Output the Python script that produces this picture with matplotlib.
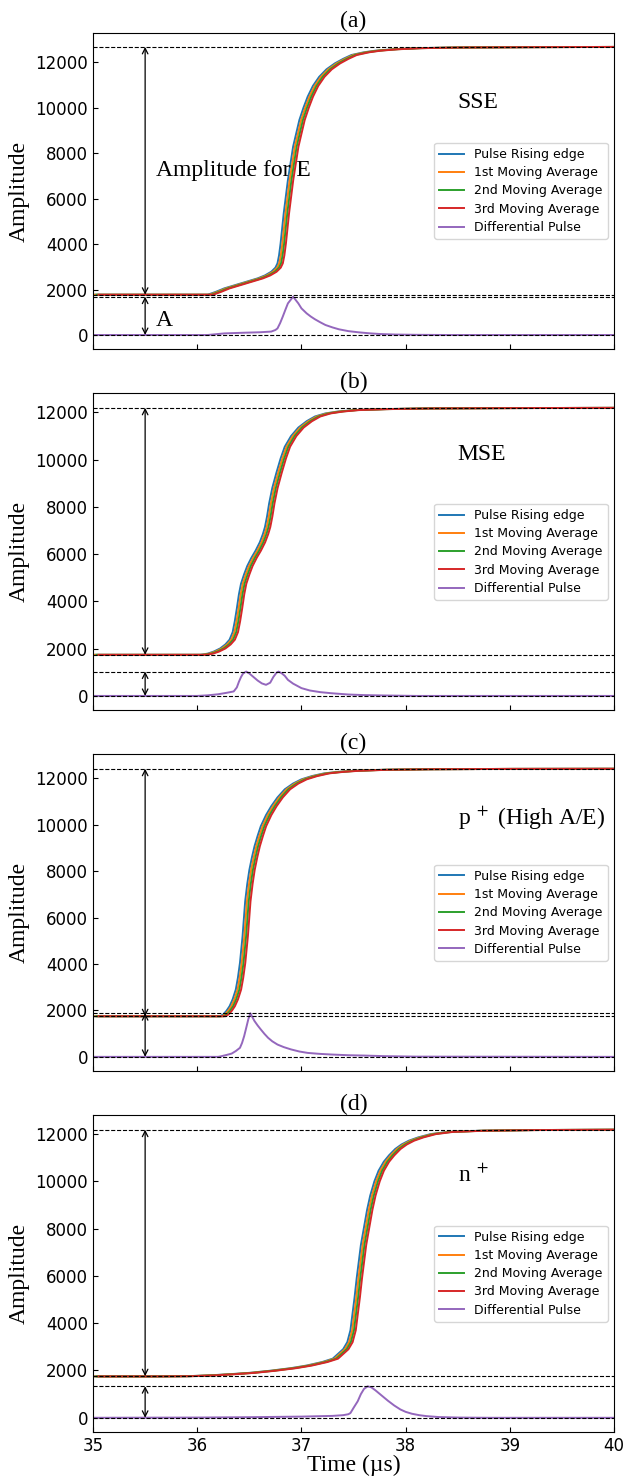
import numpy as np
import matplotlib
matplotlib.use('Agg')
import matplotlib.pyplot as plt

plt.rcParams['mathtext.fontset'] = 'stix'

# panel titles / event type
panel_titles = ['(a)', '(b)', '(c)', '(d)']
event_labels = ['SSE', 'MSE', r'p$^{\ +}$ (High A/E)', r'n$^{\ +}$']
legend_labels = ['Pulse Rising edge', '1st Moving Average', '2nd Moving Average',
                 '3rd Moving Average', 'Differential Pulse']

# delay of each moving average curve relative to the pulse (us)
ma_lag = [0.0, 0.017, 0.034, 0.051]

# (a) SSE
t_a = [35.0, 36.10, 36.18, 36.26, 36.34, 36.42, 36.50, 36.58, 36.65, 36.71, 36.75, 36.77,
       36.785, 36.80, 36.83, 36.87, 36.92, 36.98, 37.02, 37.06, 37.11, 37.17, 37.24, 37.32,
       37.40, 37.48, 37.60, 37.71, 37.87, 38.1, 38.5, 39.2, 40.0]
v_a = [1770, 1770, 1900, 2050, 2160, 2270, 2380, 2490, 2620, 2780, 2960, 3150,
       3500, 4030, 5350, 6810, 8280, 9450, 10000, 10480, 10950, 11350, 11680, 11940,
       12140, 12310, 12430, 12500, 12560, 12610, 12640, 12655, 12665]
td_a = [35.0, 36.10, 36.26, 36.45, 36.6, 36.71, 36.75, 36.77, 36.795, 36.82, 36.845, 36.87,
        36.92, 36.97, 37.0, 37.05, 37.09, 37.13, 37.18, 37.23, 37.3, 37.36, 37.45, 37.55,
        37.65, 37.75, 37.9, 38.1, 38.4, 40.0]
vd_a = [0, 0, 70, 100, 120, 150, 220, 290, 520, 800, 1100, 1390,
        1685, 1390, 1170, 950, 810, 690, 560, 440, 330, 250, 170, 117,
        75, 44, 20, 8, 0, 0]

# (b) MSE
t_b = [35.0, 36.03, 36.10, 36.16, 36.22, 36.27, 36.31, 36.34, 36.36, 36.38, 36.40, 36.42,
       36.45, 36.48, 36.52, 36.56, 36.60, 36.63, 36.65, 36.67, 36.69, 36.72, 36.76, 36.80,
       36.84, 36.90, 36.97, 37.05, 37.13, 37.23, 37.35, 37.5, 37.77, 38.2, 39.0, 40.0]
v_b = [1740, 1740, 1790, 1880, 2010, 2180, 2380, 2700, 3150, 3700, 4300, 4750,
       5150, 5500, 5850, 6150, 6500, 6850, 7150, 7600, 8150, 8800, 9450, 10050,
       10550, 11000, 11360, 11630, 11830, 11960, 12040, 12100, 12140, 12170, 12185, 12195]
td_b = [35.0, 36.0, 36.1, 36.2, 36.28, 36.35, 36.38, 36.40, 36.42, 36.44, 36.47, 36.50,
        36.54, 36.58, 36.62, 36.66, 36.70, 36.73, 36.76, 36.78, 36.81, 36.84, 36.87, 36.92,
        37.0, 37.08, 37.18, 37.29, 37.45, 37.6, 37.8, 38.1, 40.0]
vd_b = [0, 0, 25, 70, 130, 190, 360, 600, 800, 950, 1030, 950,
        800, 650, 530, 470, 560, 800, 980, 1030, 960, 850, 680, 520,
        330, 230, 160, 113, 60, 35, 18, 0, 0]

# (c) p+ surface
t_c = [35.0, 36.22, 36.25, 36.28, 36.31, 36.34, 36.37, 36.39, 36.41, 36.435, 36.46, 36.48,
       36.50, 36.525, 36.55, 36.58, 36.61, 36.66, 36.71, 36.77, 36.84, 36.92, 37.0, 37.1,
       37.22, 37.36, 37.51, 37.77, 38.2, 39.0, 40.0]
v_c = [1750, 1750, 1830, 1980, 2180, 2480, 2900, 3400, 4050, 5200, 6700, 7450,
       8050, 8600, 9080, 9530, 9940, 10420, 10800, 11180, 11530, 11780, 11960, 12100,
       12220, 12285, 12330, 12370, 12395, 12410, 12415]
td_c = [35.0, 36.2, 36.23, 36.28, 36.33, 36.37, 36.41, 36.43, 36.45, 36.47, 36.49, 36.51,
        36.53, 36.55, 36.58, 36.61, 36.645, 36.68, 36.72, 36.77, 36.83, 36.90, 36.98, 37.06,
        37.17, 37.29, 37.45, 37.61, 37.8, 38.1, 40.0]
vd_c = [0, 0, 26, 80, 140, 250, 390, 600, 890, 1250, 1620, 1880,
        1700, 1540, 1350, 1180, 990, 820, 670, 530, 420, 320, 230, 170,
        130, 100, 70, 55, 30, 10, 0]

# (d) n+ surface
t_d = [35.0, 35.6, 35.9, 36.1, 36.3, 36.5, 36.7, 36.9, 37.05, 37.2, 37.3, 37.4, 37.44,
       37.47, 37.49, 37.51, 37.53, 37.55, 37.57, 37.60, 37.63, 37.66, 37.70, 37.74, 37.79,
       37.84, 37.90, 37.96, 38.03, 38.12, 38.24, 38.4, 38.7, 39.2, 40.0]
v_d = [1750, 1750, 1760, 1790, 1840, 1900, 1990, 2100, 2210, 2360, 2500, 2900, 3200,
       3700, 4400, 5100, 5900, 6600, 7300, 8050, 8800, 9400, 10000, 10450, 10830,
       11100, 11370, 11560, 11720, 11860, 12000, 12090, 12140, 12170, 12185]
td_d = [35.0, 36.0, 36.5, 37.0, 37.3, 37.4, 37.45, 37.47, 37.50, 37.54, 37.57, 37.60,
        37.635, 37.67, 37.71, 37.77, 37.83, 37.89, 37.95, 38.0, 38.06, 38.13, 38.2, 38.32,
        38.5, 38.8, 40.0]
vd_d = [0, 10, 25, 50, 80, 110, 150, 200, 420, 700, 1000, 1220,
        1330, 1290, 1160, 940, 720, 520, 350, 250, 170, 110, 70, 30,
        10, 0, 0]

# reference levels: pulse top, pulse baseline, differential peak
top_levels = [12665, 12195, 12415, 12185]
base_levels = [1770, 1740, 1750, 1760]
peak_levels = [1685, 1030, 1880, 1335]

pulses = [(t_a, v_a), (t_b, v_b), (t_c, v_c), (t_d, v_d)]
diffs = [(td_a, vd_a), (td_b, vd_b), (td_c, vd_c), (td_d, vd_d)]

serif = 'Liberation Serif'

fig, axes = plt.subplots(4, 1, figsize=(6.26, 14.78), dpi=100, sharex=True)
fig.subplots_adjust(left=0.1486, right=0.981, top=0.978, bottom=0.031, hspace=0.139)

for i, ax in enumerate(axes):
    t, v = pulses[i]
    t = np.array(t)
    for k, lag in enumerate(ma_lag):
        ax.plot(t + lag, v, color='C%d' % k, lw=1.4, label=legend_labels[k])
    td, vd = diffs[i]
    ax.plot(td, vd, color='C4', lw=1.4, label=legend_labels[4])

    for lvl in [top_levels[i], base_levels[i], peak_levels[i], 0]:
        ax.axhline(lvl, color='black', ls='--', lw=0.8)

    ax.annotate('', xy=(35.5, top_levels[i]), xytext=(35.5, base_levels[i]),
                arrowprops=dict(arrowstyle='<->', lw=0.9, color='black',
                                shrinkA=0, shrinkB=0))
    ax.annotate('', xy=(35.5, peak_levels[i]), xytext=(35.5, 0),
                arrowprops=dict(arrowstyle='<->', lw=0.9, color='black',
                                shrinkA=0, shrinkB=0))

    ax.text(38.5, 10000, event_labels[i], fontsize=17, family=serif)
    ax.set_title(panel_titles[i], fontsize=17, family=serif, pad=3)
    ax.set_ylabel('Amplitude', fontsize=17, family=serif)
    ax.legend(loc='center right', fontsize=9, labelspacing=0.42)
    ax.tick_params(direction='in', labelsize=12)
    ax.set_xlim(35, 40)

axes[0].text(35.6, 7000, 'Amplitude for E', fontsize=17, family=serif)
axes[0].text(35.6, 400, 'A', fontsize=17, family=serif)
axes[-1].set_xlabel('Time (\u00b5s)', fontsize=17, family=serif, labelpad=0)

plt.savefig('out.png')
